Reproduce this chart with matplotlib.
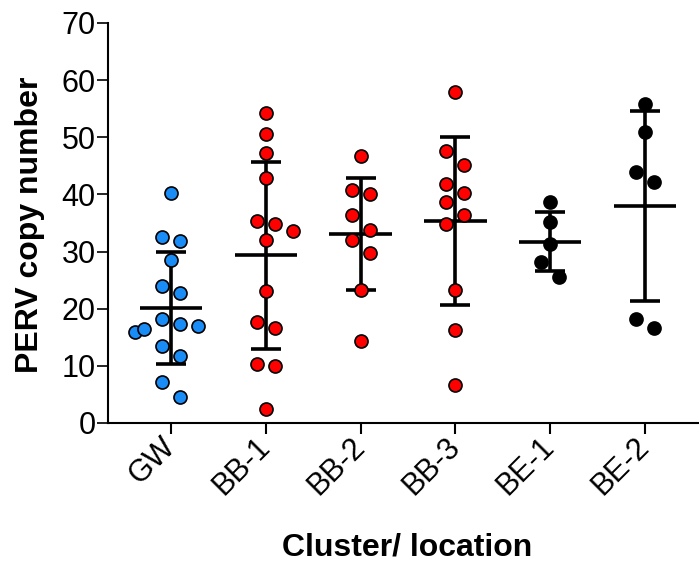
import numpy as np
import matplotlib
matplotlib.use('Agg')
import matplotlib.pyplot as plt

plt.rcParams['font.family'] = ['Liberation Sans', 'DejaVu Sans']

groups = ['GW', 'BB-1', 'BB-2', 'BB-3', 'BE-1', 'BE-2']
colors = ['#1a8cf5', '#ff0000', '#ff0000', '#ff0000', '#000000', '#000000']

gw = [40.2, 32.6, 31.9, 28.5, 23.9, 22.7, 18.2, 16.9, 16.0, 16.5, 17.3, 13.5, 11.8, 7.2, 4.6]
bb1 = [54.2, 50.5, 47.3, 42.9, 34.9, 35.3, 33.6, 32.1, 23.1, 17.6, 16.6, 10.3, 10.0, 2.4]
bb2 = [46.7, 40.8, 40.1, 36.4, 33.8, 32.0, 29.7, 23.2, 14.4]
bb3 = [57.9, 47.6, 45.2, 41.8, 40.2, 38.6, 36.4, 34.8, 23.2, 16.2, 6.7]
be1 = [38.6, 35.1, 31.4, 28.2, 25.5]
be2 = [55.8, 51.0, 44.0, 42.2, 18.2, 16.7]
data = [gw, bb1, bb2, bb3, be1, be2]


def swarm_offsets(values, ax, dot_px=16.0, slot_px=9.0):
    # greedy beeswarm in pixel space, highest value first;
    # a point that collides with a lone centred point splits the pair symmetrically
    p0 = ax.transData.transform((0, 0))
    px_per_x = ax.transData.transform((1, 0))[0] - p0[0]
    px_per_y = ax.transData.transform((0, 1))[1] - p0[1]
    values = np.asarray(values)
    order = np.argsort(values)[::-1]
    pos = {}

    def free(x, y, skip=None):
        return all((x - px) ** 2 + (y - py) ** 2 >= dot_px ** 2
                   for j, (px, py) in pos.items() if j != skip)

    for n, i in enumerate(order):
        y = values[i] * px_per_y
        if n > 0:
            prev = order[n - 1]
            px, py = pos[prev]
            if px == 0 and not free(0, y) and free(-slot_px, py, skip=prev):
                pos[prev] = (-slot_px, py)
                if free(slot_px, y):
                    pos[i] = (slot_px, y)
                    continue
                pos[prev] = (px, py)
        for k in [0, 1, -1, 2, -2, 3, -3, 4, -4]:
            x = k * slot_px
            if free(x, y):
                break
        pos[i] = (x, y)
    return np.array([pos[i][0] / px_per_x for i in range(len(values))])


fig = plt.figure(figsize=(6.99, 5.65), dpi=100)
ax = fig.add_axes([108 / 699, 142 / 565, 591 / 699, 400 / 565])
ax.set_xlim(-0.665, 5.57)
ax.set_ylim(0, 70)

for i, (vals, c) in enumerate(zip(data, colors)):
    vals = np.array(vals)
    m = vals.mean()
    sd = vals.std(ddof=1)
    ax.errorbar(i, m, yerr=sd, fmt='none', ecolor='black', elinewidth=2.6,
                capsize=11, capthick=2.6, zorder=2)
    ax.hlines(m, i - 0.33, i + 0.33, color='black', linewidth=2.6, zorder=2)
    xs = i + swarm_offsets(vals, ax)
    ax.scatter(xs, vals, s=88, color=c, edgecolors='black', linewidths=1.2, zorder=3)

ax.spines['top'].set_visible(False)
ax.spines['right'].set_visible(False)
ax.spines['left'].set_linewidth(1.5)
ax.spines['bottom'].set_linewidth(1.5)

ax.set_yticks(np.arange(0, 71, 10))
ax.set_xticks(range(len(groups)))
ax.set_xticklabels(groups, rotation=45, ha='right', va='center', rotation_mode='anchor')
ax.tick_params(axis='both', length=8, width=1.2, labelsize=22, pad=1)
ax.tick_params(axis='x', width=1.5, pad=6)

fig.text(30 / 699, 1 - 225 / 565, 'PERV copy number', rotation=90, ha='center',
         va='center', fontsize=23, fontweight='bold')
fig.text(407 / 699, 1 - 548 / 565, 'Cluster/ location', ha='center', va='center',
         fontsize=23, fontweight='bold')

fig.savefig('out.png', dpi=100)
